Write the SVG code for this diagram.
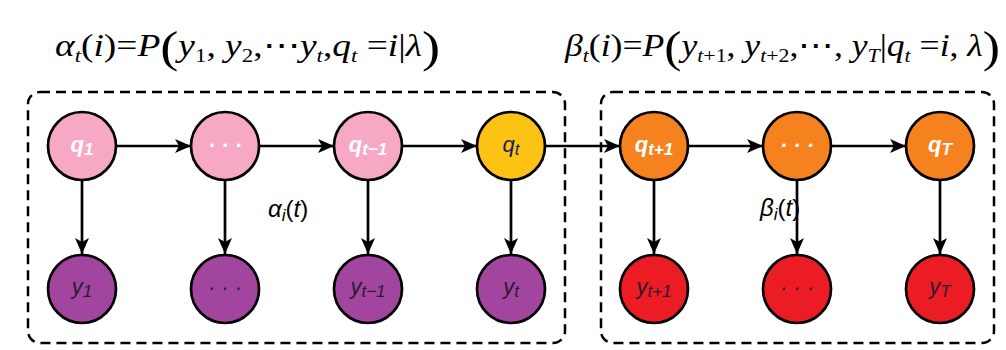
<svg xmlns="http://www.w3.org/2000/svg" width="1006" height="350" viewBox="0 0 1006 350">
<defs>
<marker id="arr" markerWidth="17" markerHeight="14" refX="16" refY="7" orient="auto" markerUnits="userSpaceOnUse">
<path d="M0,0 L16,7 L0,14 L4,7 z" fill="#000"/>
</marker>
<style>
.box{fill:none;stroke:#000;stroke-width:2.5;stroke-dasharray:10 6}
.edge{stroke:#000;stroke-width:2.7;fill:none;marker-end:url(#arr)}
.node{stroke:#000;stroke-width:2.7}
.pink{fill:#F6A8C5}
.yellow{fill:#FCC214}
.orange{fill:#F6821F}
.purple{fill:#A2459E}
.red{fill:#EC1C24}
.lbl{font-family:"Liberation Sans",Arial,sans-serif;font-size:22px;font-style:italic;text-anchor:middle}
.w{fill:#fff;font-weight:bold}
.d{fill:#2a1a30}
.nv{fill:#1c1c5c}
.sub{font-size:17px}
.f{font-family:"Liberation Serif","Times New Roman",serif;font-size:31px;fill:#000}
.it{font-style:italic}
.s{font-size:19px;font-style:italic}
.sn{font-size:19px}
.big{font-size:45px}
.m{font-family:"Liberation Sans",Arial,sans-serif;font-size:24px;fill:#000}
</style>
</defs>

<g id="formulas">
<text class="f" x="55" y="56" textLength="385" lengthAdjust="spacingAndGlyphs"><tspan class="it">α</tspan><tspan class="s" dy="6">t</tspan><tspan dy="-6">(</tspan><tspan class="it">i</tspan>)=<tspan class="it">P</tspan><tspan class="big" dy="6">(</tspan><tspan class="it" dy="-6">y</tspan><tspan class="sn" dy="6">1</tspan><tspan dy="-6">, </tspan><tspan class="it">y</tspan><tspan class="sn" dy="6">2</tspan><tspan dy="-6">,⋯</tspan><tspan class="it">y</tspan><tspan class="s" dy="6">t</tspan><tspan dy="-6">,</tspan><tspan class="it">q</tspan><tspan class="s" dy="6">t</tspan><tspan dy="-6"> =</tspan><tspan class="it">i</tspan>|<tspan class="it">λ</tspan><tspan class="big" dy="6">)</tspan></text>
<text class="f" x="565" y="56" textLength="435" lengthAdjust="spacingAndGlyphs"><tspan class="it">β</tspan><tspan class="s" dy="6">t</tspan><tspan dy="-6">(</tspan><tspan class="it">i</tspan>)=<tspan class="it">P</tspan><tspan class="big" dy="6">(</tspan><tspan class="it" dy="-6">y</tspan><tspan class="s" dy="6">t</tspan><tspan class="sn">+1</tspan><tspan dy="-6">, </tspan><tspan class="it">y</tspan><tspan class="s" dy="6">t</tspan><tspan class="sn">+2</tspan><tspan dy="-6">,⋯, </tspan><tspan class="it">y</tspan><tspan class="s" dy="6">T</tspan><tspan dy="-6">|</tspan><tspan class="it">q</tspan><tspan class="s" dy="6">t</tspan><tspan dy="-6"> =</tspan><tspan class="it">i</tspan>, <tspan class="it">λ</tspan><tspan class="big" dy="6">)</tspan></text>
</g>

<g id="boxes">
<rect class="box" x="28" y="92" width="537" height="251" rx="12"/>
<rect class="box" x="601" y="92" width="393" height="251" rx="12"/>
</g>

<g id="connectors">
<line class="edge" x1="116" y1="146" x2="191" y2="146"/>
<line class="edge" x1="259" y1="146" x2="334" y2="146"/>
<line class="edge" x1="402" y1="146" x2="477" y2="146"/>
<line class="edge" x1="545" y1="146" x2="620" y2="146"/>
<line class="edge" x1="688" y1="146" x2="763" y2="146"/>
<line class="edge" x1="831" y1="146" x2="906" y2="146"/>
<line class="edge" x1="82" y1="180" x2="82" y2="254"/>
<line class="edge" x1="225" y1="180" x2="225" y2="254"/>
<line class="edge" x1="368" y1="180" x2="368" y2="254"/>
<line class="edge" x1="511" y1="180" x2="511" y2="254"/>
<line class="edge" x1="654" y1="180" x2="654" y2="254"/>
<line class="edge" x1="797" y1="180" x2="797" y2="254"/>
<line class="edge" x1="940" y1="180" x2="940" y2="254"/>
</g>

<g id="q1"><circle class="node pink" cx="82" cy="146" r="34"/><text class="lbl w" x="82" y="152">q<tspan class="sub" dy="3">1</tspan></text></g>
<g id="q_dots1"><circle class="node pink" cx="225" cy="146" r="34"/><text class="lbl w" x="225" y="153">· · ·</text></g>
<g id="q_tm1"><circle class="node pink" cx="368" cy="146" r="34"/><text class="lbl w" x="368" y="152">q<tspan class="sub" dy="3">t−1</tspan></text></g>
<g id="q_t"><circle class="node yellow" cx="511" cy="146" r="34"/><text class="lbl nv" x="511" y="152" font-weight="normal">q<tspan class="sub" dy="3">t</tspan></text></g>
<g id="q_tp1"><circle class="node orange" cx="654" cy="146" r="34"/><text class="lbl w" x="654" y="152">q<tspan class="sub" dy="3">t+1</tspan></text></g>
<g id="q_dots2"><circle class="node orange" cx="797" cy="146" r="34"/><text class="lbl w" x="797" y="153">· · ·</text></g>
<g id="q_T"><circle class="node orange" cx="940" cy="146" r="34"/><text class="lbl w" x="940" y="152">q<tspan class="sub" dy="3">T</tspan></text></g>

<g id="y1"><circle class="node purple" cx="82" cy="289" r="34"/><text class="lbl d" x="82" y="294">y<tspan class="sub" dy="3">1</tspan></text></g>
<g id="y_dots1"><circle class="node purple" cx="225" cy="289" r="34"/><text class="lbl d" x="225" y="295">· · ·</text></g>
<g id="y_tm1"><circle class="node purple" cx="368" cy="289" r="34"/><text class="lbl d" x="368" y="294">y<tspan class="sub" dy="3">t−1</tspan></text></g>
<g id="y_t"><circle class="node purple" cx="511" cy="289" r="34"/><text class="lbl d" x="511" y="294">y<tspan class="sub" dy="3">t</tspan></text></g>
<g id="y_tp1"><circle class="node red" cx="654" cy="289" r="34"/><text class="lbl d" x="654" y="294">y<tspan class="sub" dy="3">t+1</tspan></text></g>
<g id="y_dots2"><circle class="node red" cx="797" cy="289" r="34"/><text class="lbl d" x="797" y="295">· · ·</text></g>
<g id="y_T"><circle class="node red" cx="940" cy="289" r="34"/><text class="lbl d" x="940" y="294">y<tspan class="sub" dy="3">T</tspan></text></g>

<g id="labels">
<text class="m" x="268" y="217"><tspan font-style="italic">α</tspan><tspan font-size="17" font-style="italic" dy="4">i</tspan><tspan dy="-4">(</tspan><tspan font-style="italic">t</tspan>)</text>
<text class="m" x="760" y="216"><tspan font-style="italic">β</tspan><tspan font-size="17" font-style="italic" dy="4">i</tspan><tspan dy="-4">(</tspan><tspan font-style="italic">t</tspan>)</text>
</g>
</svg>
